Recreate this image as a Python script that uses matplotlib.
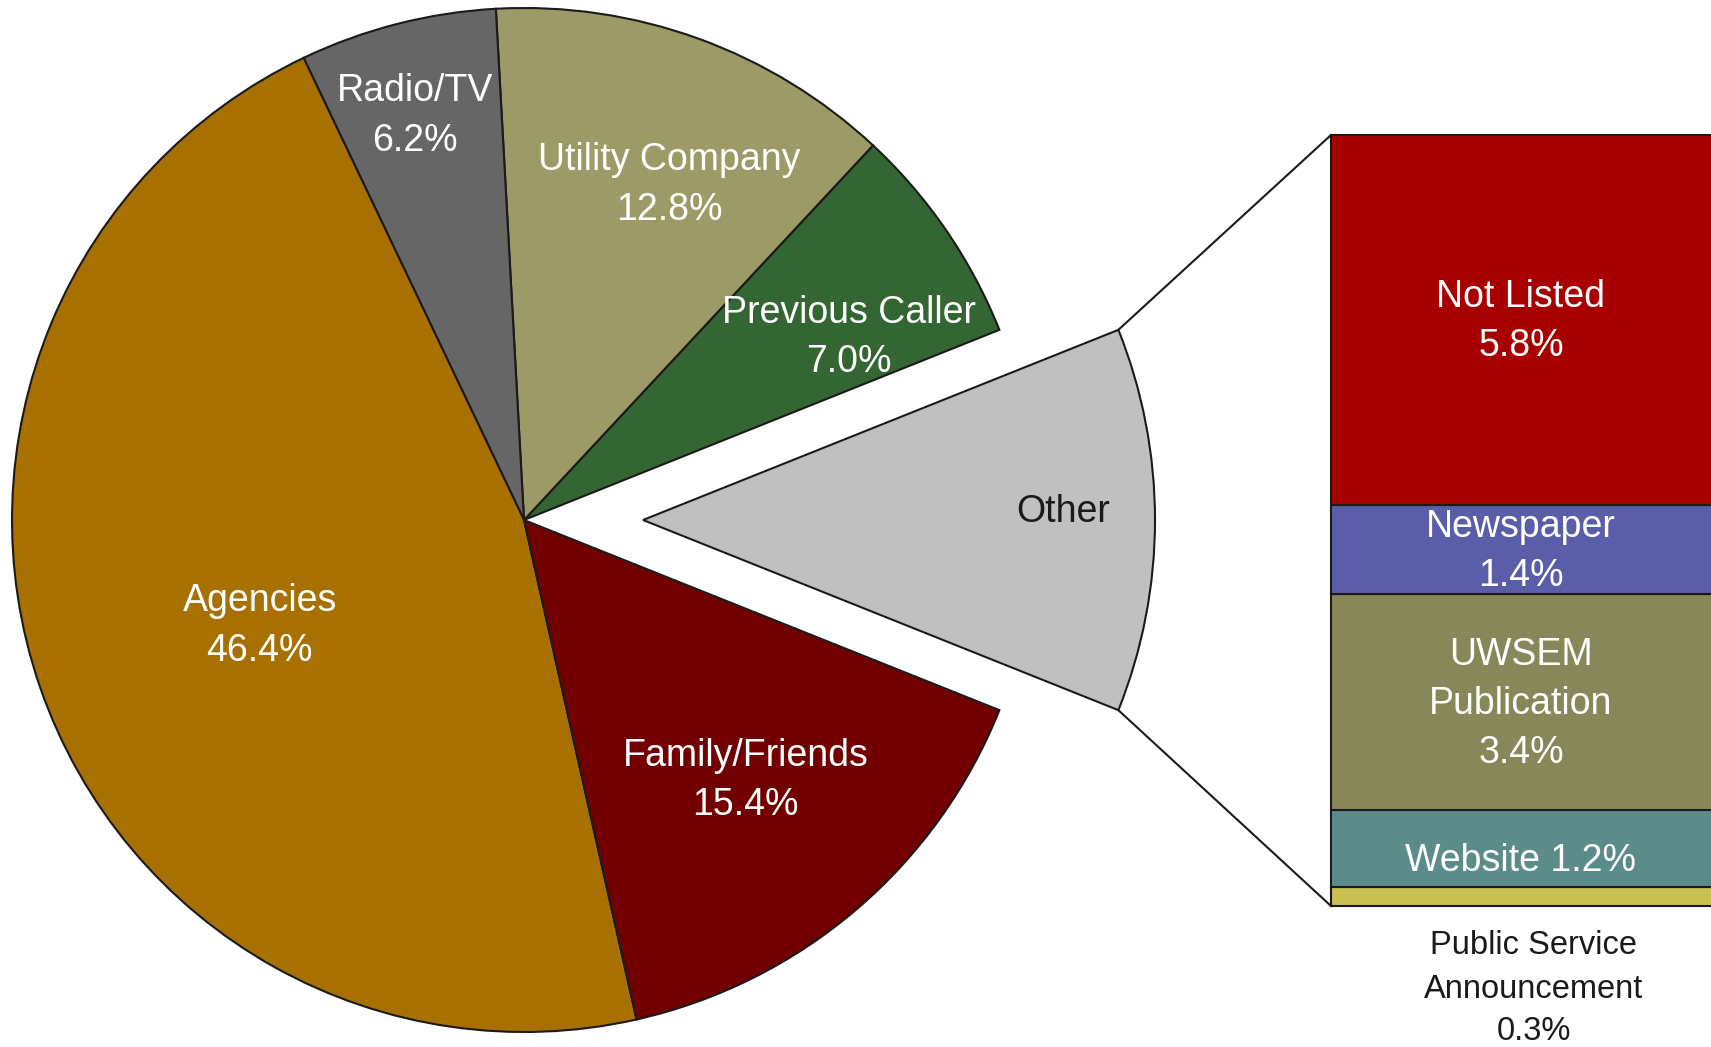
import numpy as np
import matplotlib
matplotlib.use("Agg")
import matplotlib.pyplot as plt

plt.rcParams['font.family'] = ['Liberation Sans', 'DejaVu Sans']

# ---- data ----
pie_labels = ["Other", "Previous Caller", "Utility Company", "Radio/TV", "Agencies", "Family/Friends"]
pie_values = [12.1, 7.0, 12.8, 6.2, 46.4, 15.4]
pie_colors = ["#C0C0C0", "#336633", "#9C9A66", "#666666", "#A87000", "#720000"]

bar_labels = ["Not Listed", "Newspaper", "UWSEM\nPublication", "Website", "Public Service\nAnnouncement"]
bar_values = [5.8, 1.4, 3.4, 1.2, 0.3]
bar_colors = ["#A80000", "#5A5EA8", "#888759", "#5B8C8A", "#C8C050"]

W, H = 1711, 1047
fig = plt.figure(figsize=(W / 100, H / 100), dpi=100)
ax = fig.add_axes([0, 0, 1, 1])

cx, cy, R = 524, H - 520, 512
explode_px = 119
total = sum(pie_values)
other_half = pie_values[0] / total * 360 / 2
start = -other_half
# matplotlib's explode offset is in data units
explode = [explode_px] + [0] * (len(pie_values) - 1)

wedges, _ = ax.pie(pie_values, colors=pie_colors, startangle=start, counterclock=True,
                   explode=explode, center=(cx, cy), radius=R,
                   wedgeprops=dict(edgecolor="#1a1a1a", linewidth=1.5))

# label placement: (fraction of radius, angle offset from wedge middle in degrees)
label_pos = [(0.82, 1.3), (0.731, -4.6), (0.72, -3.25), (0.825, 0.67), (0.553, 2.0), (0.662, 0.35)]
fs = 27
ls = 1.47
ang = start
for i, (lab, v) in enumerate(zip(pie_labels, pie_values)):
    span = v / total * 360
    frac, off = label_pos[i]
    mid = np.deg2rad(ang + span / 2 + off)
    ox = cx + (explode_px if i == 0 else 0)
    x = ox + frac * R * np.cos(mid)
    y = cy + frac * R * np.sin(mid)
    if i == 0:
        ax.text(x, y - 2, lab, ha="center", va="center", fontsize=fs, color="#1a1a1a")
    else:
        ax.text(x, y - 4, f"{lab}\n{v:.1f}%", ha="center", va="center", fontsize=fs,
                color="white", linespacing=ls)
    ang += span

# ---- stacked bar ----
bar_left, bar_top, bar_bottom = 1331, H - 135, H - 906
scale = (bar_top - bar_bottom) / sum(bar_values)
bottom = bar_bottom
vis_center = (bar_left + W) / 2
segs = []
for lab, v, c in reversed(list(zip(bar_labels, bar_values, bar_colors))):
    ax.bar(bar_left, v * scale, bottom=bottom, width=600, align="edge", color=c,
           edgecolor="#1a1a1a", linewidth=1.5, zorder=2)
    segs.append((lab, v, bottom + v * scale / 2))
    bottom += v * scale

for lab, v, ymid in segs:
    if lab.startswith("Public"):
        ax.text(vis_center + 13, bar_bottom - 83, f"{lab}\n{v:.1f}%", ha="center", va="center",
                fontsize=23.5, color="#1a1a1a", linespacing=1.5)
    elif lab == "Website":
        ax.text(vis_center, ymid - 12, f"{lab} {v:.1f}%", ha="center", va="center",
                fontsize=fs, color="white")
    else:
        ax.text(vis_center, ymid - 2, f"{lab}\n{v:.1f}%", ha="center", va="center",
                fontsize=fs, color="white", linespacing=ls)

# connector lines
ocx = cx + explode_px
th = np.deg2rad(other_half)
ax.plot([ocx + R * np.cos(th), bar_left], [cy + R * np.sin(th), bar_top], color="#1a1a1a", lw=1.5)
ax.plot([ocx + R * np.cos(th), bar_left], [cy - R * np.sin(th), bar_bottom], color="#1a1a1a", lw=1.5)

ax.set_xlim(0, W)
ax.set_ylim(0, H)
ax.set_aspect("auto")
ax.axis("off")
fig.savefig("out.png", dpi=100, facecolor="white")
